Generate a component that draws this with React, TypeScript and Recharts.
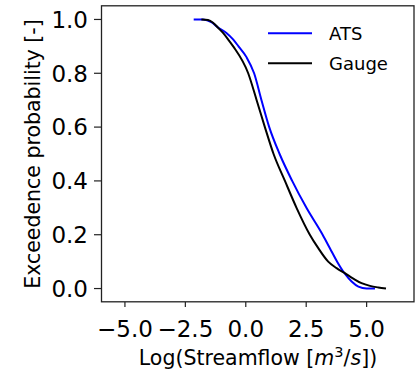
import React from 'react';
import { LineChart, Line, XAxis, YAxis, Legend } from 'recharts';

// ATS exceedence curve
const atsX = [-2.155, -1.768, -1.423, -1.146, -0.801, -0.525, -0.3, 0.03, 0.345, 0.65, 0.97, 1.4, 1.92, 2.51, 3.18, 3.48, 3.78, 4.1, 4.38, 4.66, 5.0, 5.345];
const atsY = [1.0, 1.0, 0.99, 0.97, 0.95, 0.926, 0.9, 0.86, 0.8, 0.7, 0.6, 0.5, 0.4, 0.3, 0.2, 0.15, 0.1, 0.055, 0.026, 0.007, 0.0, 0.0];

// Gauge exceedence curve
const gaugeX = [-1.837, -1.561, -1.354, -1.146, -0.94, -0.732, -0.52, 0.1, 0.45, 0.79, 1.15, 1.62, 2.1, 2.65, 3.0, 3.41, 3.757, 4.1, 4.448, 4.79, 5.138, 5.483, 5.801];
const gaugeY = [1.0, 0.998, 0.988, 0.969, 0.95, 0.926, 0.9, 0.8, 0.7, 0.6, 0.5, 0.4, 0.3, 0.2, 0.15, 0.1, 0.076, 0.057, 0.037, 0.02, 0.01, 0.004, 0.0];

const xTicks = [-5, -2.5, 0, 2.5, 5];
const yTicks = [0, 0.2, 0.4, 0.6, 0.8, 1.0];
const seriesNames = ['ATS', 'Gauge'];

const xDomain: [number, number] = [-5.99, 6.96];
const yDomain: [number, number] = [-0.05, 1.05];

const FONT = 'DejaVu Sans';
const colors = ['#0000ff', '#000000'];
const FRAME = '#222';
const TICK_FS = 23;

const atsData = atsX.map((x, i) => ({ x, y: atsY[i] }));
const gaugeData = gaugeX.map((x, i) => ({ x, y: gaugeY[i] }));

const fmtX = (v: number) => v.toFixed(1).replace('-', '\u2212');
const fmtY = (v: number) => v.toFixed(1);

const XTick = (props: any) => (
  <text x={props.x} y={props.y} dy="0.73em" textAnchor="middle" fontSize={TICK_FS} fontFamily={FONT} fill="#000">
    {fmtX(props.payload.value)}
  </text>
);

const YTick = (props: any) => (
  <text x={props.x} y={props.y} dy="0.36em" textAnchor="end" fontSize={TICK_FS} fontFamily={FONT} fill="#000">
    {fmtY(props.payload.value)}
  </text>
);

const XLabel = () => (
  <text x={258} y={365} textAnchor="middle" fontSize={20.5} fontFamily={FONT} fill="#000">
    Log(Streamflow [<tspan fontStyle="italic">m</tspan>
    <tspan dy={-8} fontSize={14.5}>3</tspan>
    <tspan dy={8}>/</tspan>
    <tspan fontStyle="italic">s</tspan>])
  </text>
);

const YLabel = () => (
  <text
    x={40}
    y={154}
    transform="rotate(-90, 40, 154)"
    textAnchor="middle"
    fontSize={20.5}
    fontFamily={FONT}
    fill="#000"
  >
    Exceedence probability [-]
  </text>
);

const LegendContent = () => (
  <svg width={150} height={70} style={{ display: 'block' }}>
    {seriesNames.map((name, i) => (
      <g key={name}>
        <line x1={6} x2={50} y1={15.3 + 30 * i} y2={15.3 + 30 * i} stroke={colors[i]} strokeWidth={2} />
        <text x={67} y={22 + 30 * i} fontSize={18} fontFamily={FONT} fill="#000">
          {name}
        </text>
      </g>
    ))}
  </svg>
);

export default function App() {
  return (
    <div style={{ position: 'absolute', left: 0, top: 0, width: 417, height: 369, background: '#fff' }}>
      <LineChart width={417} height={369} margin={{ top: 6, right: 3, bottom: 7, left: 0 }}>
        <XAxis
          type="number"
          dataKey="x"
          domain={xDomain}
          ticks={xTicks}
          interval={0}
          allowDataOverflow
          axisLine={false}
          tickLine={{ stroke: FRAME, strokeWidth: 1.2 }}
          tickSize={5}
          tickMargin={13}
          tick={<XTick />}
          height={60}
          label={<XLabel />}
        />
        <YAxis
          type="number"
          dataKey="y"
          domain={yDomain}
          ticks={yTicks}
          interval={0}
          allowDataOverflow
          axisLine={false}
          tickLine={{ stroke: FRAME, strokeWidth: 1.2 }}
          tickSize={7}
          tickMargin={6}
          tick={<YTick />}
          width={101}
          label={<YLabel />}
        />
        <Legend
          layout="vertical"
          align="center"
          verticalAlign="middle"
          wrapperStyle={{ position: 'absolute', left: 262, top: 18, width: 150, height: 70 }}
          content={<LegendContent />}
        />
        <Line
          data={atsData}
          dataKey="y"
          name={seriesNames[0]}
          type="monotone"
          stroke={colors[0]}
          strokeWidth={2}
          dot={false}
          isAnimationActive={false}
        />
        <Line
          data={gaugeData}
          dataKey="y"
          name={seriesNames[1]}
          type="monotone"
          stroke={colors[1]}
          strokeWidth={2}
          dot={false}
          isAnimationActive={false}
        />
      </LineChart>
      <svg
        width={417}
        height={369}
        style={{ position: 'absolute', left: 0, top: 0, pointerEvents: 'none' }}
      >
        <rect x={101.5} y={5.8} width={312.5} height={296} fill="none" stroke={FRAME} strokeWidth={1.3} />
      </svg>
    </div>
  );
}
